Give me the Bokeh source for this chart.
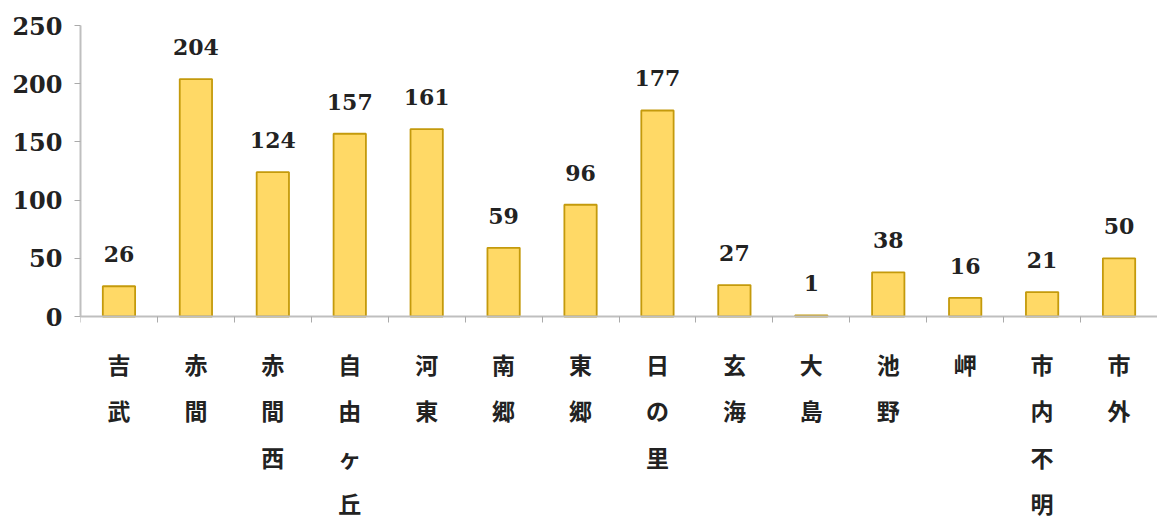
from bokeh.plotting import figure
from bokeh.models import FixedTicker, ColumnDataSource, Range1d, LinearAxis
from bokeh.embed import file_html
from bokeh.resources import INLINE
from bokeh.core.properties import value

categories = ["吉武", "赤間", "赤間西", "自由ヶ丘", "河東", "南郷", "東郷", "日の里", "玄海", "大島", "池野", "岬", "市内不明", "市外"]
counts = [26, 204, 124, 157, 161, 59, 96, 177, 27, 1, 38, 16, 21, 50]
y_ticks = [0, 50, 100, 150, 200, 250]

xs = list(range(len(categories)))
src = ColumnDataSource(dict(x=xs, y=counts, label=[str(c) for c in counts],
                            cat=["\n".join(c) for c in categories],
                            base=[0] * len(categories)))

p = figure(width=1157, height=516, output_backend="svg", toolbar_location=None,
           x_range=Range1d(-0.5, len(categories) - 0.5), y_range=Range1d(-171.8, 250),
           x_axis_location=None,
           min_border_left=80, min_border_right=0, min_border_top=25, min_border_bottom=0)
p.outline_line_color = None
p.xgrid.visible = False
p.ygrid.visible = False

p.vbar(x="x", top="y", width=0.42, source=src, fill_color="#FFD966", line_color="#C49A0C", line_width=1.8)
p.text(x="x", y="y", text="label", source=src, text_align="center", text_baseline="bottom",
       y_offset=-24, text_font=value("DejaVu Serif"), text_font_style="bold", text_font_size="22px",
       text_color="#222222")
p.text(x="x", y="base", text="cat", source=src, text_align="center", text_baseline="top",
       y_offset=30, text_font=value("Noto Sans CJK JP"), text_font_style="bold",
       text_font_size="23px", text_color="#222222", text_line_height=1.37)

xa = LinearAxis(fixed_location=0)
xa.ticker = FixedTicker(ticks=[], minor_ticks=[i - 0.5 for i in range(len(categories) + 1)])
xa.major_tick_out = 0
xa.major_tick_in = 0
xa.minor_tick_out = 0
xa.minor_tick_in = 6
xa.minor_tick_line_color = "#AAAAAA"
xa.axis_line_color = "#BFBFBF"
xa.axis_line_width = 2
p.add_layout(xa, "above")

ya = p.yaxis[0]
ya.ticker = FixedTicker(ticks=y_ticks)
ya.bounds = (0, 250)
ya.minor_tick_out = 0
ya.minor_tick_in = 0
ya.major_tick_out = 6
ya.major_tick_in = 0
ya.major_tick_line_color = "#AAAAAA"
ya.axis_line_color = "#BFBFBF"
ya.axis_line_width = 2
ya.major_label_text_font = "DejaVu Serif"
ya.major_label_text_font_style = "bold"
ya.major_label_text_font_size = "24px"
ya.major_label_text_color = "#222222"
ya.major_label_standoff = 12

open("out.html", "w").write(file_html(p, INLINE))
